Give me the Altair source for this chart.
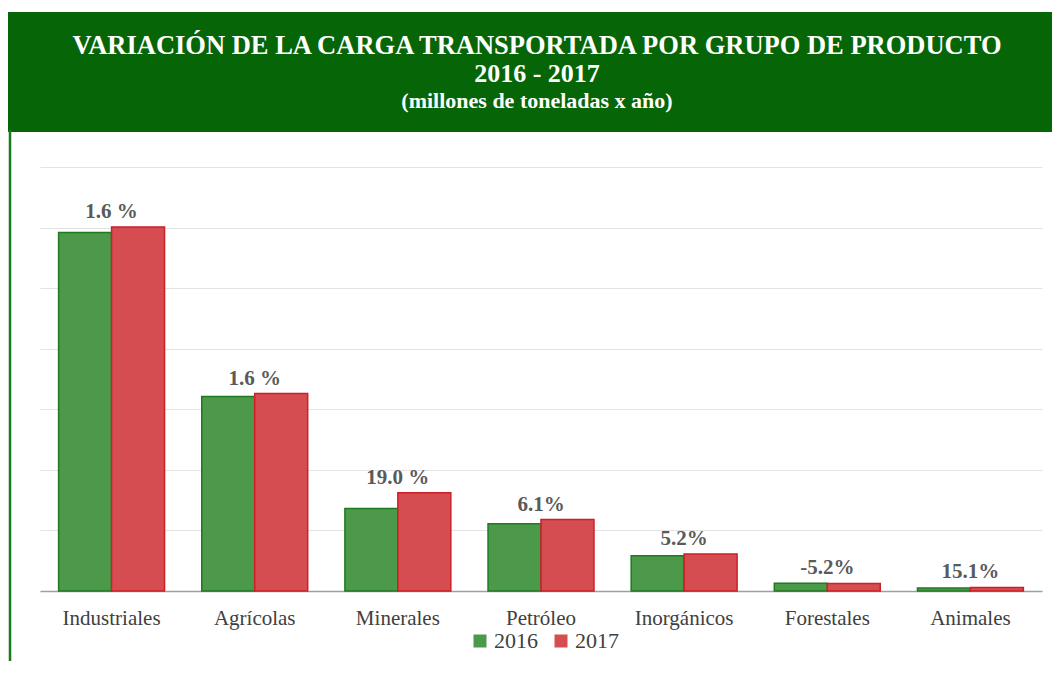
import altair as alt
import pandas as pd

categories = ["Industriales", "Agrícolas", "Minerales", "Petróleo", "Inorgánicos", "Forestales", "Animales"]
years = ["2016", "2017"]
values_2016 = [59.2, 32.1, 13.6, 11.1, 5.8, 1.3, 0.5]
values_2017 = [60.1, 32.6, 16.2, 11.8, 6.1, 1.23, 0.58]
pct_labels = ["1.6 %", "1.6 %", "19.0 %", "6.1%", "5.2%", "-5.2%", "15.1%"]
title_lines = ["VARIACIÓN DE LA CARGA TRANSPORTADA POR GRUPO DE PRODUCTO", "2016 - 2017", "(millones de toneladas x año)"]

rows = []
for c, a, b in zip(categories, values_2016, values_2017):
    rows.append({"cat": c, "year": "2016", "val": a})
    rows.append({"cat": c, "year": "2017", "val": b})
df = pd.DataFrame(rows)
lab = pd.DataFrame({"cat": categories, "top": [max(a, b) for a, b in zip(values_2016, values_2017)], "label": pct_labels})

FONT = "Liberation Serif"
W, H = 1002, 424

xenc = alt.X("cat:N", sort=categories, title=None,
             scale=alt.Scale(paddingInner=0.26, paddingOuter=0.13),
             axis=alt.Axis(labelAngle=0, labelFont=FONT, labelFontSize=21, labelColor="#404040",
                           labelPadding=16, ticks=False, domainColor="#a0a0a0", domainWidth=1.5))
yscale = alt.Scale(domain=[0, 70])

bars = alt.Chart(df).mark_bar(strokeWidth=1.5).encode(
    x=xenc,
    xOffset=alt.XOffset("year:N", sort=years),
    y=alt.Y("val:Q", scale=yscale, title=None,
            axis=alt.Axis(values=[0, 10, 20, 30, 40, 50, 60, 70], labels=False, ticks=False, domain=False,
                          grid=True, gridColor="#e3e3e3", gridWidth=1.2)),
    fill=alt.Fill("year:N", sort=years, title=None,
                  scale=alt.Scale(domain=years, range=["#4C994C", "#D64D51"]),
                  legend=alt.Legend(orient="none", direction="horizontal", legendX=429, legendY=463,
                                    symbolType="square", symbolSize=169, symbolStrokeWidth=0,
                                    labelFont=FONT, labelFontSize=22, labelColor="#404040",
                                    columnPadding=12, labelOffset=3)),
    stroke=alt.Stroke("year:N", sort=years, scale=alt.Scale(domain=years, range=["#1F7A1F", "#CC1F26"]),
                      legend=None),
)

labels = alt.Chart(lab).mark_text(font=FONT, fontSize=21, fontWeight="bold", color="#5a5a5a",
                                  baseline="bottom", dy=-5).encode(
    x=alt.X("cat:N", sort=categories),
    y=alt.Y("top:Q", scale=yscale),
    text="label:N",
)

one = alt.Data(values=[{"k": 1}])
banner = alt.Chart(one).mark_rect(color="#066506").encode(
    x=alt.value(-32), x2=alt.value(1012), y=alt.value(-155), y2=alt.value(-35))
leftline = alt.Chart(one).mark_rule(color="#1a7a1a", strokeWidth=2.5).encode(
    x=alt.value(-30), y=alt.value(-37), y2=alt.value(500))

t1 = alt.Chart(one).mark_text(text=title_lines[0], font=FONT, fontSize=26.5, fontWeight="bold", color="white").encode(
    x=alt.value(497), y=alt.value(-121))
t2 = alt.Chart(one).mark_text(text=title_lines[1], font=FONT, fontSize=26, fontWeight="bold", color="white").encode(
    x=alt.value(497), y=alt.value(-93))
t3 = alt.Chart(one).mark_text(text=title_lines[2], font=FONT, fontSize=22, fontWeight="bold", color="white").encode(
    x=alt.value(497), y=alt.value(-66))

chart = alt.layer(banner, leftline, t1, t2, t3, bars, labels).properties(
    width=W, height=H,
    autosize=alt.AutoSizeParams(type="none"),
    padding={"left": 32, "top": 159, "right": 10, "bottom": 70},
).configure(background="white", font=FONT).configure_view(stroke=None, strokeWidth=0) \
 .configure_legend(labelFont=FONT).configure_axisY(domain=False)

chart.save("out.html", embed_options={"renderer": "svg", "actions": False})
